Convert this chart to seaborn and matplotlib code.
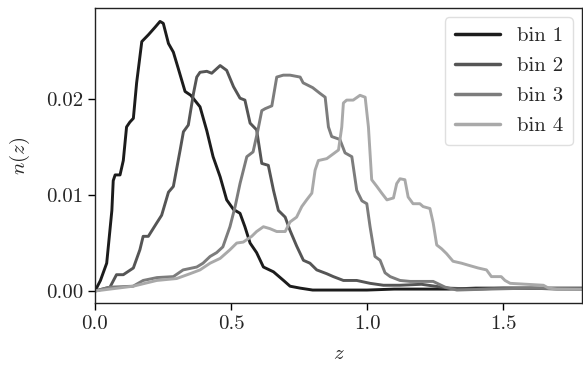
import numpy as np
import pandas as pd
import matplotlib
matplotlib.use("Agg")
import matplotlib.pyplot as plt
import seaborn as sns

# ---- data ----
z1 = [0.0, 0.02, 0.043, 0.062, 0.067, 0.074, 0.092, 0.104, 0.116, 0.128, 0.141, 0.153, 0.172, 0.196,
      0.221, 0.239, 0.251, 0.27, 0.288, 0.306, 0.331, 0.352, 0.386, 0.411, 0.434, 0.46, 0.484, 0.509,
      0.533, 0.551, 0.57, 0.594, 0.619, 0.656, 0.693, 0.717, 0.754, 0.8, 0.9, 1.0, 1.1, 1.2, 1.3,
      1.4, 1.5, 1.6, 1.7, 1.8]
n1 = [0.0, 0.0011, 0.0029, 0.0084, 0.0115, 0.0121, 0.0121, 0.0136, 0.0171, 0.0176, 0.018, 0.0217,
      0.026, 0.0267, 0.0275, 0.0281, 0.0279, 0.0258, 0.0249, 0.0232, 0.0208, 0.0204, 0.0192, 0.0167,
      0.014, 0.0119, 0.0095, 0.0085, 0.0081, 0.0067, 0.005, 0.004, 0.0025, 0.002, 0.0011, 0.0005,
      0.0003, 0.0001, 0.0001, 0.0001, 0.0002, 0.0002, 0.0002, 0.0003, 0.0003, 0.0003, 0.0003, 0.0003]

z2 = [0.0, 0.04, 0.055, 0.079, 0.104, 0.141, 0.165, 0.177, 0.196, 0.227, 0.245, 0.27, 0.288, 0.313,
      0.325, 0.343, 0.362, 0.374, 0.386, 0.411, 0.429, 0.46, 0.484, 0.509, 0.533, 0.551, 0.57, 0.594,
      0.613, 0.637, 0.656, 0.674, 0.699, 0.717, 0.741, 0.766, 0.79, 0.815, 0.852, 0.876, 0.913, 0.962,
      1.011, 1.06, 1.12, 1.2, 1.3, 1.4, 1.5, 1.6, 1.7, 1.8]
n2 = [0.0, 0.0003, 0.0004, 0.0017, 0.0017, 0.0024, 0.0043, 0.0057, 0.0057, 0.0071, 0.0079, 0.0103,
      0.0109, 0.0147, 0.0166, 0.0173, 0.0206, 0.0223, 0.0228, 0.0229, 0.0227, 0.0235, 0.023, 0.0213,
      0.0201, 0.0199, 0.0175, 0.0168, 0.0133, 0.0131, 0.0105, 0.0084, 0.0077, 0.0063, 0.0047, 0.0032,
      0.0029, 0.0022, 0.0018, 0.0015, 0.0011, 0.0011, 0.0008, 0.0006, 0.0006, 0.0007, 0.0003, 0.0002,
      0.0003, 0.0003, 0.0002, 0.0002]

z3 = [0.0, 0.055, 0.14, 0.177, 0.228, 0.288, 0.324, 0.374, 0.397, 0.423, 0.447, 0.47, 0.496, 0.515,
      0.533, 0.558, 0.581, 0.599, 0.613, 0.625, 0.65, 0.668, 0.692, 0.717, 0.754, 0.765, 0.8, 0.827,
      0.846, 0.858, 0.87, 0.9, 0.919, 0.944, 0.962, 0.981, 0.999, 1.011, 1.029, 1.048, 1.066, 1.085,
      1.121, 1.158, 1.243, 1.287, 1.33, 1.45, 1.6, 1.8]
n3 = [0.0, 0.0004, 0.0005, 0.0011, 0.0014, 0.0015, 0.0022, 0.0025, 0.0029, 0.0036, 0.004, 0.0046,
      0.0067, 0.0088, 0.0112, 0.014, 0.0145, 0.0168, 0.0188, 0.019, 0.0193, 0.0223, 0.0225, 0.0225,
      0.0223, 0.0217, 0.0212, 0.0206, 0.0202, 0.0171, 0.0161, 0.0158, 0.0144, 0.014, 0.0105, 0.0094,
      0.0091, 0.0067, 0.0036, 0.0032, 0.0019, 0.0015, 0.0011, 0.001, 0.001, 0.0004, 0.0001, 0.0002,
      0.0003, 0.0002]

z4 = [0.0, 0.055, 0.14, 0.227, 0.3, 0.349, 0.386, 0.423, 0.46, 0.496, 0.521, 0.545, 0.576, 0.594,
      0.619, 0.643, 0.668, 0.699, 0.717, 0.741, 0.76, 0.778, 0.797, 0.809, 0.821, 0.852, 0.876, 0.895,
      0.907, 0.913, 0.925, 0.949, 0.974, 0.993, 1.005, 1.017, 1.036, 1.054, 1.073, 1.097, 1.109, 1.121,
      1.139, 1.151, 1.169, 1.194, 1.206, 1.231, 1.243, 1.256, 1.274, 1.292, 1.316, 1.347, 1.371, 1.408,
      1.439, 1.457, 1.493, 1.507, 1.526, 1.648, 1.667, 1.697, 1.8]
n4 = [0.0, 0.0002, 0.0005, 0.0011, 0.0013, 0.0018, 0.0022, 0.0029, 0.0034, 0.0043, 0.005, 0.0051,
      0.0057, 0.0062, 0.0067, 0.0065, 0.0062, 0.0062, 0.0072, 0.0077, 0.0088, 0.0095, 0.0102, 0.0126,
      0.0136, 0.0138, 0.0143, 0.0147, 0.0171, 0.0196, 0.0199, 0.0199, 0.0204, 0.0202, 0.0171, 0.0116,
      0.0109, 0.0102, 0.0095, 0.0097, 0.0112, 0.0117, 0.0116, 0.0098, 0.0091, 0.0091, 0.0088, 0.0086,
      0.0071, 0.0048, 0.0044, 0.0039, 0.0031, 0.0029, 0.0027, 0.0024, 0.0022, 0.0015, 0.0015, 0.0011,
      0.0008, 0.0006, 0.0003, 0.0002, 0.0002]

labels = ["bin 1", "bin 2", "bin 3", "bin 4"]
colors = ["#1c1c1c", "#555555", "#7c7c7c", "#a9a9a9"]

frames = []
for lab, zz, nn in zip(labels, [z1, z2, z3, z4], [n1, n2, n3, n4]):
    frames.append(pd.DataFrame({"z": zz, "n": nn, "bin": lab}))
df = pd.concat(frames, ignore_index=True)

sns.set_style("ticks")
plt.rcParams["font.family"] = "serif"
plt.rcParams["font.serif"] = ["cmr10", "DejaVu Serif"]
plt.rcParams["mathtext.fontset"] = "cm"
plt.rcParams["axes.formatter.use_mathtext"] = True
plt.rcParams["font.size"] = 15
plt.rcParams["lines.solid_joinstyle"] = "round"
plt.rcParams["lines.solid_capstyle"] = "round"

fig = plt.figure(figsize=(5.83, 3.67), dpi=100)
ax = fig.add_axes([95 / 583, 64 / 367, 487 / 583, 295 / 367])

sns.lineplot(data=df, x="z", y="n", hue="bin", palette=dict(zip(labels, colors)),
             sort=False, estimator=None, linewidth=2.1, ax=ax)

ax.set_xlim(0, 1.79)
ax.set_ylim(-0.00125, 0.0295)
ax.set_xticks([0.0, 0.5, 1.0, 1.5])
ax.set_xticklabels(["0.0", "0.5", "1.0", "1.5"])
ax.set_yticks([0.0, 0.01, 0.02])
ax.set_yticklabels(["0.00", "0.01", "0.02"])
ax.tick_params(labelsize=15, length=5, width=1.0, direction="out", color="black")
for s in ax.spines.values():
    s.set_color("#222222")
    s.set_linewidth(1.0)
ax.set_xlabel(r"$z$", fontsize=15, labelpad=9)
ax.set_ylabel(r"$n(z)$", fontsize=15, labelpad=10)

leg = ax.legend(loc="upper right", fontsize=15, frameon=True, fancybox=True,
                handlelength=2.2, borderpad=0.45, labelspacing=0.55, handletextpad=0.8,
                borderaxespad=0.45)
leg.get_frame().set_edgecolor("#d8d8d8")
leg.get_frame().set_linewidth(1.0)
for line in leg.get_lines():
    line.set_linewidth(2.5)

fig.savefig("out.png", dpi=100)
